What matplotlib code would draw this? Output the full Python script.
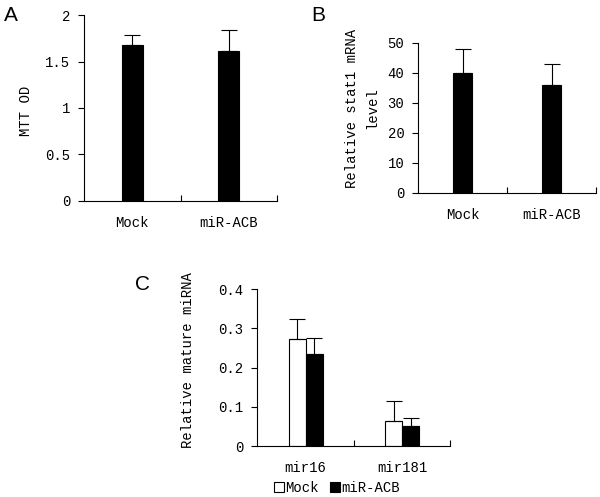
import matplotlib
matplotlib.use("Agg")
import matplotlib.pyplot as plt
from matplotlib.ticker import FormatStrFormatter, FixedLocator
from matplotlib.patches import Patch

# data
cats = ['Mock', 'miR-ACB']
mtt = [1.68, 1.61]
mtt_err = [0.10, 0.23]

stat1 = [40.0, 36.1]
stat1_err = [7.9, 7.0]

groups = ['mir16', 'mir181']
mock = [0.273, 0.064]
mock_err = [0.051, 0.051]
acb = [0.234, 0.052]
acb_err = [0.040, 0.020]

plt.rcParams['font.family'] = ['Liberation Mono', 'DejaVu Sans Mono']
plt.rcParams['font.size'] = 10
plt.rcParams['axes.linewidth'] = 0.8

fig = plt.figure(figsize=(6, 4.97), dpi=100)


def style(ax, ncat, ymax, ystep, fmt):
    for s in ['top', 'right']:
        ax.spines[s].set_visible(False)
    ax.set_xlim(-0.5, ncat - 0.5)
    ax.set_ylim(0, ymax)
    ax.set_yticks([i * ystep for i in range(int(round(ymax / ystep)) + 1)])
    ax.yaxis.set_major_formatter(FormatStrFormatter(fmt))
    ax.tick_params(axis='y', direction='out', length=4, width=0.8, pad=6)
    ax.xaxis.set_major_locator(FixedLocator([i + 0.5 for i in range(ncat)]))
    ax.xaxis.set_minor_locator(FixedLocator(list(range(ncat))))
    ax.tick_params(axis='x', which='major', direction='in', length=4, width=0.8,
                   labelbottom=False)
    ax.tick_params(axis='x', which='minor', length=0, pad=11)


ekw = dict(elinewidth=0.8, capthick=0.8)

# A
axA = fig.add_axes([0.14, 0.5956, 0.3217, 0.3742])
x = list(range(len(cats)))
axA.bar(x, mtt, 0.22, color='black', edgecolor='black', linewidth=0.8)
axA.errorbar(x, mtt, yerr=[[0, 0], mtt_err], fmt='none', ecolor='black',
             capsize=5.5, **ekw)
style(axA, 2, 2, 0.5, '%g')
axA.set_xticklabels(cats, minor=True)
fig.text(26 / 600, 1 - 111 / 497, 'MTT OD', rotation=90, ha='center', va='center')
fig.text(4 / 600, 1 - 6 / 497, 'A', family='Liberation Sans', fontsize=15,
         ha='left', va='top')

# B
axB = fig.add_axes([0.697, 0.6123, 0.2963, 0.3012])
axB.bar(x, stat1, 0.21, color='black', edgecolor='black', linewidth=0.8)
axB.errorbar(x, stat1, yerr=[[0, 0], stat1_err], fmt='none', ecolor='black',
             capsize=5.5, **ekw)
style(axB, 2, 50, 10, '%g')
axB.set_xticklabels(cats, minor=True)
fig.text(362 / 600, 1 - 108 / 497, 'Relative stat1 mRNA\nlevel', rotation=90,
         ha='center', va='center', multialignment='center', linespacing=1.5)
fig.text(311 / 600, 1 - 6 / 497, 'B', family='Liberation Sans', fontsize=15,
         ha='left', va='top')

# C
axC = fig.add_axes([0.4288, 0.1026, 0.3217, 0.3159])
w = 0.176
xm = [i - w / 2 for i in range(len(groups))]
xa = [i + w / 2 for i in range(len(groups))]
axC.bar(xm, mock, w, color='white', edgecolor='black', linewidth=0.8, label='Mock')
axC.bar(xa, acb, w, color='black', edgecolor='black', linewidth=0.8, label='miR-ACB')
axC.errorbar(xm, mock, yerr=[[0, 0], mock_err], fmt='none', ecolor='black',
             capsize=5.5, **ekw)
axC.errorbar(xa, acb, yerr=[[0, 0], acb_err], fmt='none', ecolor='black',
             capsize=5.5, **ekw)
style(axC, 2, 0.4, 0.1, '%g')
axC.set_xticklabels(groups, minor=True)
fig.text(188 / 600, 1 - 360 / 497, 'Relative mature miRNA', rotation=90,
         ha='center', va='center')
fig.text(135 / 600, 1 - 275 / 497, 'C', family='Liberation Sans', fontsize=15,
         ha='left', va='top')

handles = [Patch(facecolor='white', edgecolor='black', linewidth=0.8, label='Mock'),
           Patch(facecolor='black', edgecolor='black', linewidth=0.8, label='miR-ACB')]
fig.legend(handles=handles, loc='center', bbox_to_anchor=(337 / 600, 1 - 488 / 497),
           ncol=2, frameon=False, handlelength=0.7, handleheight=0.7,
           handletextpad=0.1, columnspacing=0.8, borderpad=0, borderaxespad=0)

fig.savefig('out.png', dpi=100)
plt.close(fig)
